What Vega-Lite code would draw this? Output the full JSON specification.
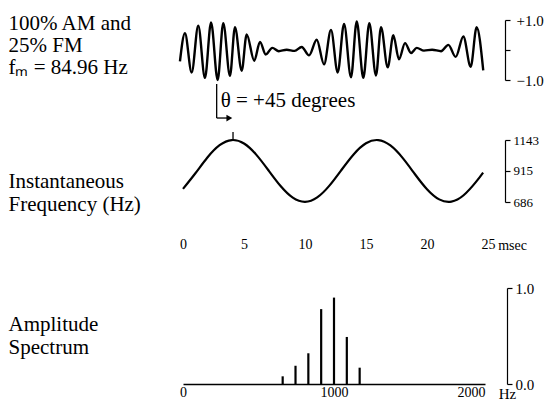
{
  "$schema": "https://vega.github.io/schema/vega-lite/v6.json",
  "background": "white",
  "padding": {"left": 8, "top": 12, "right": 0, "bottom": 0},
  "autosize": {"type": "pad"},
  "config": {
    "view": {"stroke": null},
    "font": "Liberation Serif",
    "axis": {
      "labelFont": "Liberation Serif",
      "titleFont": "Liberation Serif",
      "labelColor": "black",
      "titleColor": "black",
      "domainColor": "black",
      "tickColor": "black",
      "titleFontWeight": "normal",
      "grid": false,
      "labelOverlap": false
    }
  },
  "spacing": 28,
  "resolve": {"scale": {"x": "independent", "y": "independent"}},
  "vconcat": [
    {
      "spacing": 60,
      "bounds": "flush",
      "resolve": {"scale": {"x": "independent", "y": "independent"}},
      "vconcat": [
        {
          "width": 305,
          "height": 60,
          "data": {"values": [
            {"t": -0.25, "a": -0.38}, {"t": 0.16, "a": 0.56}, {"t": 0.71, "a": -0.75}, {"t": 1.25, "a": 0.81},
            {"t": 1.80, "a": -0.93}, {"t": 2.30, "a": 0.92}, {"t": 2.84, "a": -1.0}, {"t": 3.30, "a": 0.89},
            {"t": 3.85, "a": -0.86}, {"t": 4.26, "a": 0.76}, {"t": 4.81, "a": -0.69}, {"t": 5.22, "a": 0.52},
            {"t": 5.84, "a": -0.36}, {"t": 6.31, "a": 0.27}, {"t": 6.78, "a": -0.15}, {"t": 7.32, "a": 0.07},
            {"t": 7.85, "a": -0.04}, {"t": 8.5, "a": 0.01}, {"t": 9.15, "a": -0.03}, {"t": 9.73, "a": 0.10},
            {"t": 10.33, "a": -0.18}, {"t": 10.96, "a": 0.34}, {"t": 11.56, "a": -0.48}, {"t": 12.13, "a": 0.67},
            {"t": 12.68, "a": -0.75}, {"t": 13.20, "a": 0.87}, {"t": 13.77, "a": -0.91}, {"t": 14.24, "a": 0.95},
            {"t": 14.78, "a": -0.93}, {"t": 15.27, "a": 0.89}, {"t": 15.82, "a": -0.85}, {"t": 16.23, "a": 0.76},
            {"t": 16.78, "a": -0.58}, {"t": 17.24, "a": 0.49}, {"t": 17.70, "a": -0.31}, {"t": 18.20, "a": 0.23},
            {"t": 18.69, "a": -0.10}, {"t": 19.16, "a": 0.07}, {"t": 19.75, "a": -0.02}, {"t": 20.42, "a": 0.01},
            {"t": 21.15, "a": -0.04}, {"t": 21.75, "a": 0.17}, {"t": 22.35, "a": -0.23}, {"t": 22.98, "a": 0.45},
            {"t": 23.58, "a": -0.56}, {"t": 24.07, "a": 0.76}, {"t": 24.61, "a": -0.68}
          ]},
          "mark": {"type": "line", "interpolate": "monotone", "color": "black", "strokeWidth": 2.4},
          "encoding": {
            "x": {"field": "t", "type": "quantitative", "scale": {"domain": [0, 25], "nice": false}, "axis": null},
            "y": {
              "field": "a", "type": "quantitative",
              "scale": {"domain": [-1, 1], "nice": false, "zero": false},
              "axis": {
                "orient": "right", "offset": 17, "values": [-1, 0, 1],
                "labelExpr": "datum.value > 0 ? '+1.0' : (datum.value < 0 ? '\u22121.0' : '')",
                "tickSize": 5, "labelPadding": 6, "labelFontSize": 15,
                "domainWidth": 1.2, "tickWidth": 1.2,
                "title": ["100% AM and", "25% FM", "f\u2098 = 84.96 Hz"],
                "titleAngle": 0, "titleAlign": "left", "titleBaseline": "alphabetic",
                "titleX": -497, "titleY": 9.5, "titleFontSize": 21, "titleLineHeight": 22
              }
            }
          }
        },
        {
          "width": 305,
          "height": 62,
          "encoding": {
            "x": {
              "field": "t", "type": "quantitative", "scale": {"domain": [0, 25], "nice": false},
              "axis": {
                "values": [0, 5, 10, 15, 20, 25], "domain": false, "ticks": false, "tickSize": 0,
                "labelPadding": 35, "labelFontSize": 14, "labelFlush": false,
                "title": "msec", "titleX": 329, "titleY": 47.5, "titleBaseline": "alphabetic",
                "titleAlign": "center", "titleFontSize": 14
              }
            },
            "y": {
              "field": "y", "type": "quantitative",
              "scale": {"domain": [686, 1143], "nice": false, "zero": false},
              "axis": {
                "orient": "right", "offset": 17, "values": [686, 915, 1143], "format": "d",
                "tickSize": 5, "labelPadding": 3, "labelFontSize": 13,
                "domainWidth": 1.2, "tickWidth": 1.2,
                "title": ["Instantaneous", "Frequency (Hz)"],
                "titleAngle": 0, "titleAlign": "left", "titleBaseline": "alphabetic",
                "titleX": -497, "titleY": 47, "titleFontSize": 21, "titleLineHeight": 23
              }
            }
          },
          "layer": [
            {
              "data": {"values": [
                {"t": 0, "y": 783}, {"t": 1, "y": 895.9}, {"t": 2, "y": 1014.2}, {"t": 3, "y": 1104.9},
                {"t": 4, "y": 1142.7}, {"t": 5, "y": 1117.2}, {"t": 6, "y": 1035.4}, {"t": 7, "y": 920.2},
                {"t": 8, "y": 803.5}, {"t": 9, "y": 717.8}, {"t": 10, "y": 687}, {"t": 11, "y": 719.6},
                {"t": 12, "y": 806.5}, {"t": 13, "y": 923.7}, {"t": 14, "y": 1038.6}, {"t": 15, "y": 1118.8},
                {"t": 16, "y": 1142.5}, {"t": 17, "y": 1102.7}, {"t": 18, "y": 1011.0}, {"t": 19, "y": 892.4},
                {"t": 20, "y": 780.0}, {"t": 21, "y": 705.2}, {"t": 22, "y": 689.0}, {"t": 23, "y": 735.5},
                {"t": 24, "y": 832.2}, {"t": 24.6, "y": 903.1}
              ]},
              "mark": {"type": "line", "interpolate": "natural", "color": "black", "strokeWidth": 2.2}
            },
            {
              "data": {"values": [
                {"t": 2.76, "y": 1556, "t2": 2.76, "y2": 1305},
                {"t": 2.76, "y": 1305, "t2": 3.8, "y2": 1305},
                {"t": 4.1, "y": 1202, "t2": 4.1, "y2": 1143}
              ]},
              "mark": {"type": "rule", "color": "black", "strokeWidth": 1.3},
              "encoding": {"x2": {"field": "t2"}, "y2": {"field": "y2"}}
            },
            {
              "data": {"values": [{"t": 3.8, "y": 1305}]},
              "mark": {"type": "point", "shape": "triangle-right", "filled": true, "color": "black", "size": 45, "opacity": 1}
            },
            {
              "data": {"values": [{"t": 3.09, "y": 1386, "label": "\u03b8 = +45 degrees"}]},
              "mark": {"type": "text", "align": "left", "baseline": "alphabetic", "fontSize": 21, "font": "Liberation Serif", "color": "black"},
              "encoding": {"text": {"field": "label"}}
            }
          ]
        }
      ]
    },
    {
      "width": 302,
      "height": 96,
      "data": {"values": [
        {"f": 660.1, "amp": 0.08}, {"f": 745.1, "amp": 0.19}, {"f": 830.1, "amp": 0.32},
        {"f": 915.0, "amp": 0.78}, {"f": 1000.0, "amp": 0.90}, {"f": 1084.9, "amp": 0.49},
        {"f": 1169.9, "amp": 0.17}
      ]},
      "mark": {"type": "rule", "color": "black", "strokeWidth": 2.2},
      "encoding": {
        "x": {
          "field": "f", "type": "quantitative", "scale": {"domain": [0, 2000], "nice": false},
          "axis": {
            "values": [0, 1000, 2000], "format": "d", "domainWidth": 1.3, "ticks": false, "tickSize": 0,
            "labelPadding": 1, "labelFontSize": 14, "labelFlush": false,
            "labelAlign": {"condition": {"test": "datum.value >= 2000", "value": "right"}, "value": "center"},
            "title": "Hz", "titleX": 324, "titleY": 9, "titleBaseline": "middle", "titleAlign": "center", "titleFontSize": 15
          }
        },
        "y": {
          "field": "amp", "type": "quantitative", "scale": {"domain": [0, 1], "nice": false},
          "axis": {
            "orient": "right", "offset": 22, "values": [0, 1], "format": ".1f",
            "tickSize": 5, "labelPadding": 3, "labelFontSize": 15,
            "domainWidth": 1.2, "tickWidth": 1.2,
            "title": ["Amplitude", "Spectrum"],
            "titleAngle": 0, "titleAlign": "left", "titleBaseline": "alphabetic",
            "titleX": -499, "titleY": 42, "titleFontSize": 21, "titleLineHeight": 23
          }
        },
        "y2": {"datum": 0}
      }
    }
  ]
}
